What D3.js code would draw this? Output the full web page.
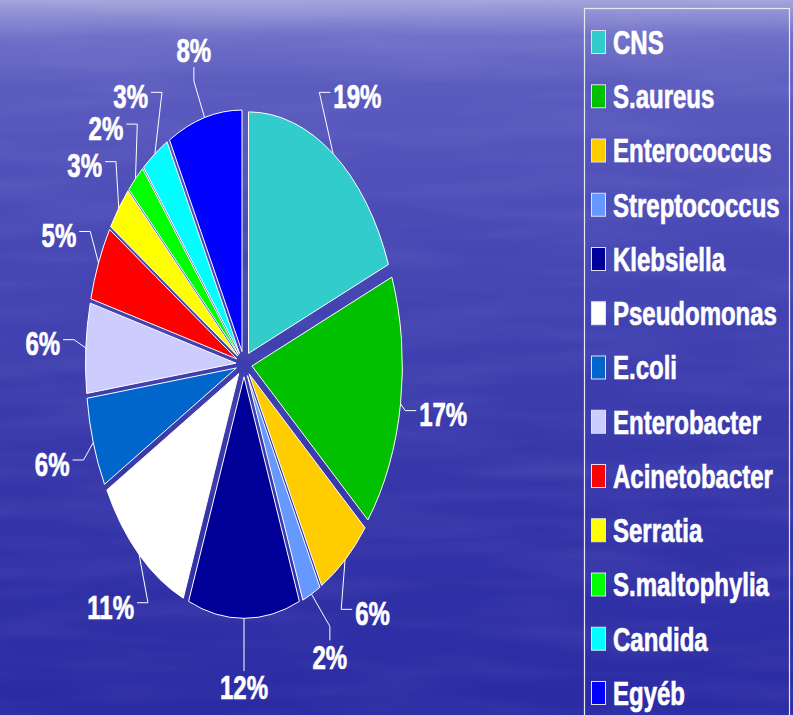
<!DOCTYPE html>
<html>
<head>
<meta charset="utf-8">
<script src="https://cdn.jsdelivr.net/npm/d3@7"></script>
<style>
  html, body { margin: 0; padding: 0; background: #3a3ab0; }
  svg { display: block; }
</style>
</head>
<body>
<script>
const categories = ["CNS", "S.aureus", "Enterococcus", "Streptococcus", "Klebsiella", "Pseudomonas",
  "E.coli", "Enterobacter", "Acinetobacter", "Serratia", "S.maltophylia", "Candida", "Egyéb"];
const values = [19, 17, 6, 2, 12, 11, 6, 6, 5, 3, 2, 3, 8];
const labels = ["19%", "17%", "6%", "2%", "12%", "11%", "6%", "6%", "5%", "3%", "2%", "3%", "8%"];
const colors = ["#33CCCC", "#00C000", "#FFCC00", "#6699FF", "#000099", "#FFFFFF",
  "#0066CC", "#CCCCFF", "#FF0000", "#FFFF00", "#00FF00", "#00FFFF", "#0000FF"];

const W = 793, H = 715;
const svg = d3.select("body").append("svg").attr("width", W).attr("height", H);
const defs = svg.append("defs");

// background gradient
const bg = defs.append("linearGradient").attr("id", "bg").attr("x1", 0).attr("y1", 0).attr("x2", 0).attr("y2", 1);
[[0, "#a4a4dc"], [0.05, "#7070c8"], [0.12, "#5b5bbf"], [0.35, "#4747b4"], [0.6, "#3939ab"], [1, "#2a2aa3"]]
  .forEach(([o, c]) => bg.append("stop").attr("offset", o).attr("stop-color", c));
// subtle horizontal streak texture
const f = defs.append("filter").attr("id", "streaks").attr("x", 0).attr("y", 0).attr("width", 1).attr("height", 1);
f.append("feTurbulence").attr("type", "fractalNoise").attr("baseFrequency", "0.006 0.05").attr("numOctaves", 2).attr("seed", 7).attr("result", "n");
f.append("feColorMatrix").attr("in", "n").attr("type", "matrix")
  .attr("values", "0 0 0 0 0.75  0 0 0 0 0.75  0 0 0 0 1  0 0 0 0.14 -0.055");
f.append("feComposite").attr("in2", "SourceGraphic").attr("operator", "in");

svg.append("rect").attr("width", W).attr("height", H).attr("fill", "url(#bg)");
svg.append("rect").attr("width", W).attr("height", H).attr("fill", "#fff").attr("filter", "url(#streaks)");

// pie geometry
const cx = 244, cy = 364, rx = 150.5, ry = 241.5, k = ry / rx;
const explode = 8;
const pie = d3.pie().sort(null).value(d => d)(values);
const arc = d3.arc().innerRadius(0).outerRadius(rx);

const pg = svg.append("g").attr("transform", `translate(${cx},${cy}) scale(1,${k})`);
pg.selectAll("path").data(pie).join("path")
  .attr("d", arc)
  .attr("transform", d => {
    const m = (d.startAngle + d.endAngle) / 2;
    return `translate(${explode * Math.sin(m)},${-explode * Math.cos(m)})`;
  })
  .attr("fill", (d, i) => colors[i])
  .attr("stroke", "#ffffff")
  .attr("stroke-width", 1)
  .attr("vector-effect", "non-scaling-stroke");

// labels
const SY = 1.38, FS = 24;
const lr = 1.34;
const lg = svg.append("g");
pie.forEach((d, i) => {
  const m = (d.startAngle + d.endAngle) / 2;
  const s = Math.sin(m), c = Math.cos(m);
  const lx = cx + rx * lr * s, ly = cy - ry * lr * c;
  const t = lg.append("text")
    .attr("transform", `translate(${lx},${ly + 11.8}) scale(1,${SY})`)
    .attr("text-anchor", "middle")
    .attr("font-family", "'Liberation Sans', Arial, sans-serif")
    .attr("font-weight", "bold")
    .attr("font-size", FS)
    .attr("fill", "#fff")
    .attr("stroke", "#fff").attr("stroke-width", 0.5)
    .text(labels[i]);
  const hw = t.node().getComputedTextLength() / 2, hh = 12.5;
  const ax = cx + (rx + explode) * s, ay = cy - (ry + explode * k) * c;
  let P, Q;
  if (Math.abs(s) > 0.5) {
    const sg = Math.sign(s);
    P = [lx - sg * (hw + 3), ly - 4];
    Q = [P[0] - sg * 11, P[1]];
  } else {
    const cg = Math.sign(c);
    P = [lx, ly + cg * (hh + 4)];
    Q = [lx, P[1] + cg * 14];
  }
  lg.append("polyline")
    .attr("points", [[ax, ay], Q, P].map(p => p.join(",")).join(" "))
    .attr("fill", "none").attr("stroke", "#fff").attr("stroke-width", 1);
});

// legend
const legX = 584, legY = 8, legW = 205;
svg.append("rect").attr("x", legX + 0.5).attr("y", legY + 0.5).attr("width", legW).attr("height", H)
  .attr("fill", "none").attr("stroke", "#e8e8f4").attr("stroke-width", 1.2);
const step = 54.25, y0 = 42;
const lgd = svg.append("g");
categories.forEach((name, i) => {
  const yc = y0 + i * step;
  lgd.append("rect").attr("x", 591.5).attr("y", yc - 11.5).attr("width", 14).attr("height", 23)
    .attr("fill", colors[i]).attr("stroke", "#e0e0f0").attr("stroke-width", 1);
  lgd.append("text")
    .attr("transform", `translate(613,${yc + 11.8}) scale(1,${SY})`)
    .attr("font-family", "'Liberation Sans', Arial, sans-serif")
    .attr("font-weight", "bold")
    .attr("font-size", FS)
    .attr("fill", "#fff")
    .attr("stroke", "#fff").attr("stroke-width", 0.5)
    .text(name);
});
</script>
</body>
</html>
